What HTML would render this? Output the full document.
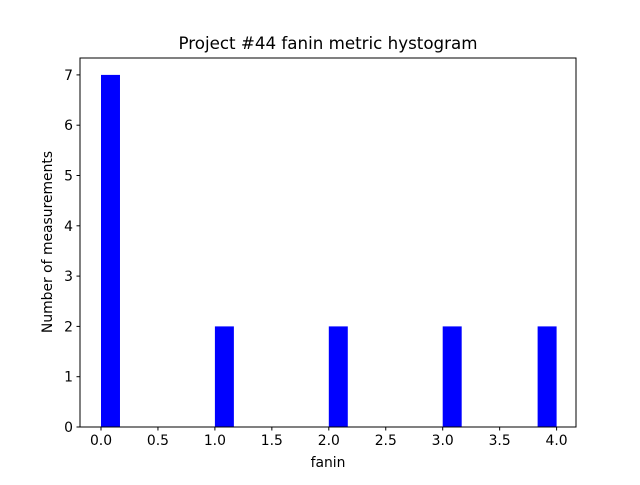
<!DOCTYPE html>
<html><head><meta charset="utf-8"><style>
body{margin:0;background:#fff;}
svg text{font-family:"DejaVu Sans","Liberation Sans",sans-serif;fill:#000;}
</style></head><body>
<svg id="chart" width="640" height="480" xmlns="http://www.w3.org/2000/svg">
<rect width="640" height="480" fill="#fff"/>
<text x="328" y="49" font-size="16.7" text-anchor="middle">Project #44 fanin metric hystogram</text>
<g id="bars"></g>
<g id="axes"></g>
<text x="328" y="467" font-size="13.9" text-anchor="middle">fanin</text>
<text transform="translate(52,242) rotate(-90)" font-size="13.9" text-anchor="middle">Number of measurements</text>
</svg>
<script>
const values = [0, 1, 2, 3, 4];
const counts = [7, 2, 2, 2, 2];
const xTicks = [0, 0.5, 1, 1.5, 2, 2.5, 3, 3.5, 4];
const yTicks = [0, 1, 2, 3, 4, 5, 6, 7];
const binCount = 24, binMin = 0, binMax = 4, rwidth = 1;

const L=80,R=576,T=58,B=427;
const x = v => 101 + v*113.9;
const y = v => B - v*50.3;
const NS="http://www.w3.org/2000/svg";
function mk(tag, attrs, parent){const e=document.createElementNS(NS,tag);for(const k in attrs)e.setAttribute(k,attrs[k]);parent.appendChild(e);return e;}
const bars=document.getElementById('bars'), axes=document.getElementById('axes');
const bw=(binMax-binMin)/binCount;
const binned=new Array(binCount).fill(0);
values.forEach((v,i)=>{let b=Math.floor((v-binMin)/bw+1e-9);if(b>=binCount)b=binCount-1;if(b<0)b=0;binned[b]+=counts[i];});
binned.forEach((c,i)=>{
  if(!c)return;
  const l=binMin+i*bw+bw*(1-rwidth)/2, r=l+bw*rwidth;
  const rc=mk('rect',{x:x(l),y:y(c),width:x(r)-x(l),height:y(0)-y(c),fill:'#0000ff'},bars);
  
  
});
const frame=mk('rect',{x:L,y:T,width:R-L,height:B-T,fill:'none',stroke:'#000','stroke-width':1},axes);


xTicks.forEach(t=>{
  const px=x(t);
  mk('line',{x1:px,x2:px,y1:B,y2:B+3.5,stroke:'#000'},axes);
  const tx=mk('text',{x:px,y:B+18,'font-size':13.9,'text-anchor':'middle'},axes);
  tx.textContent=t.toFixed(1);
  
  
});
yTicks.forEach(t=>{
  const py=y(t);
  mk('line',{x1:L-3.5,x2:L,y1:py,y2:py,stroke:'#000'},axes);
  const tx=mk('text',{x:L-7,y:py+5,'font-size':13.9,'text-anchor':'end'},axes);
  tx.textContent=t;
  
  
});
</script>
</body></html>
